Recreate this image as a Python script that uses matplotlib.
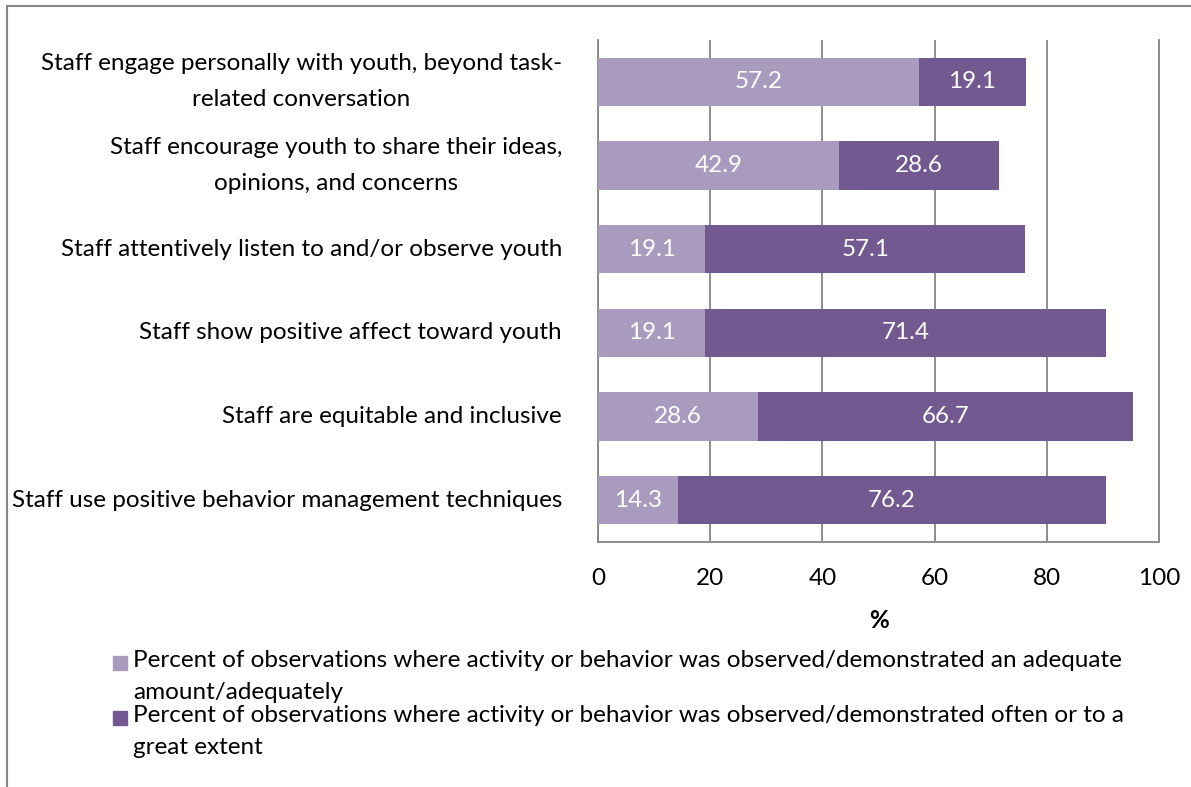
import matplotlib
matplotlib.use("Agg")
import matplotlib.pyplot as plt
from matplotlib.patches import Rectangle
from matplotlib.font_manager import FontProperties
import numpy as np

plt.rcParams['font.family'] = ['Lato', 'DejaVu Sans']

categories = [
    "Staff engage personally with youth, beyond task-\nrelated conversation",
    "Staff encourage youth to share their ideas,\nopinions, and concerns",
    "Staff attentively listen to and/or observe youth",
    "Staff show positive affect toward youth",
    "Staff are equitable and inclusive",
    "Staff use positive behavior management techniques",
]
adequate = [57.2, 42.9, 19.1, 19.1, 28.6, 14.3]
often = [19.1, 28.6, 57.1, 71.4, 66.7, 76.2]
xticks = [0, 20, 40, 60, 80, 100]
legend_labels = [
    "Percent of observations where activity or behavior was observed/demonstrated an adequate\namount/adequately",
    "Percent of observations where activity or behavior was observed/demonstrated often or to a\ngreat extent",
]

c_light = "#A99BBD"
c_dark = "#725990"
grid_c = "#868686"

W, H = 1191, 787
fig = plt.figure(figsize=(W / 100, H / 100), dpi=100)
ax = fig.add_axes([598 / W, 1 - 542 / H, (1159 - 598) / W, (542 - 40) / H])

fs = 17.5
renderer = fig.canvas.get_renderer()
_w, _h, _d = renderer.get_text_width_height_descent("lp", FontProperties(family=['Lato'], size=fs), ismath=False)
unit = _h - _d
ls_cat = 32.0 / unit
ls_leg = 28.0 / unit

y = np.arange(len(categories))
bh = 0.574
b1 = ax.barh(y, adequate, height=bh, color=c_light, zorder=3)
b2 = ax.barh(y, often, left=adequate, height=bh, color=c_dark, zorder=3)

for rect, v in zip(b1, adequate):
    ax.text(rect.get_x() + rect.get_width() / 2, rect.get_y() + rect.get_height() / 2,
            f"{v:.1f}", ha="center", va="center", color="white", fontsize=fs, zorder=4)
for rect, v in zip(b2, often):
    ax.text(rect.get_x() + rect.get_width() / 2, rect.get_y() + rect.get_height() / 2,
            f"{v:.1f}", ha="center", va="center", color="white", fontsize=fs, zorder=4)

ax.set_xlim(0, 100)
ax.set_ylim(len(categories) - 0.5, -0.5)
ax.set_xticks(xticks)
ax.set_xticklabels([str(t) for t in xticks], fontsize=fs)
ax.set_yticks(y)
ax.set_yticklabels(categories, fontsize=fs, multialignment="center")
for t in ax.get_yticklabels():
    t.set_linespacing(ls_cat)
    t.set_verticalalignment("center")
ax.tick_params(axis="y", length=0, pad=26)
ax.tick_params(axis="x", length=0, pad=19)
ax.grid(axis="x", color=grid_c, linewidth=1.3, zorder=0)
for s in ax.spines.values():
    s.set_color(grid_c)
    s.set_linewidth(1.3)
ax.spines["top"].set_visible(False)
ax.set_xlabel("%", fontsize=fs, fontweight="bold", labelpad=14)

# legend (manual)
sq = 14
for i, (lab, col) in enumerate(zip(legend_labels, [c_light, c_dark])):
    yc = 663 + i * 55
    fig.patches.append(Rectangle((113 / W, 1 - (yc + sq / 2) / H), sq / W, sq / H,
                                 transform=fig.transFigure, color=col))
    fig.text(133 / W, 1 - (yc - 13) / H, lab, fontsize=fs, va="top", ha="left",
             linespacing=ls_leg)

# chart border
fig.patches.append(Rectangle((7 / W, -0.1), 1.2, 1 - 6 / H + 0.1,
                             transform=fig.transFigure, fill=False,
                             edgecolor=grid_c, linewidth=1.5))

fig.savefig("out.png", dpi=100)
